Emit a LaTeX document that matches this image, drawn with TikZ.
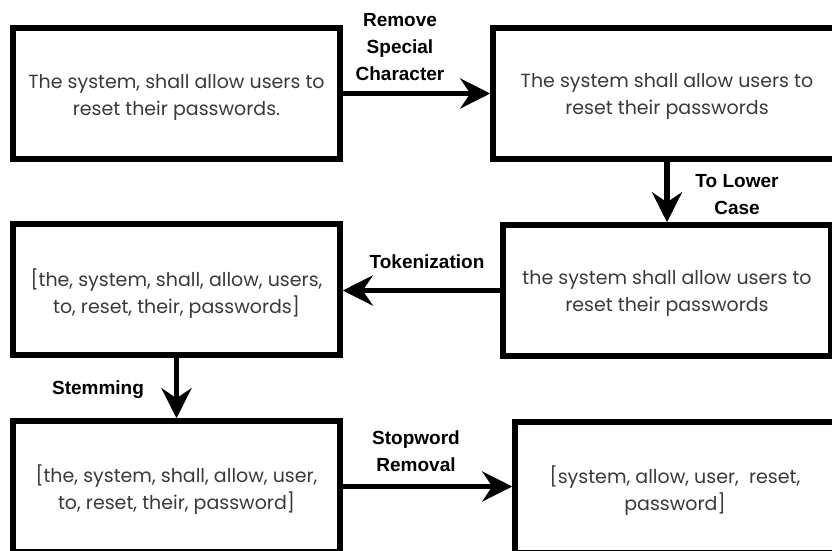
\documentclass[tikz,border=0pt]{standalone}
\usepackage{fontspec}
\setmainfont{Poppins}
\newfontfamily\labelfont{Liberation Sans}
\usetikzlibrary{arrows.meta}
\definecolor{bodytext}{HTML}{3A3A3A}
\tikzset{
  box/.style={draw=black, line width=5.5pt, fill=white, minimum height=131pt, inner sep=0pt},
  boxtext/.style={align=center, text=bodytext, font=\fontsize{19}{27}\selectfont, inner sep=0pt},
  flow/.style={line width=5.5pt, -{Stealth[length=30pt,width=30pt,inset=10pt]}},
  lbl/.style={font=\labelfont\bfseries\fontsize{19}{27}\selectfont, align=center, text=black, inner sep=0pt}
}
\begin{document}
\begin{tikzpicture}[x=1pt,y=-1pt]
\useasboundingbox (0,0) rectangle (832,550);
\clip (0,0) rectangle (832,550);
\node[box, minimum width=327pt] (b1) at (176.5,93.5) {};
\node[box, minimum width=348pt] (b2) at (667,93.5) {};
\node[box, minimum width=327pt] (b3) at (176.5,289.5) {};
\node[box, minimum width=328pt] (b4) at (667,290.5) {};
\node[box, minimum width=327pt] (b5) at (176.5,486.5) {};
\node[box, minimum width=320pt] (b6) at (675,487.5) {};

\node[boxtext] (t1) at ([yshift=-4pt]b1.center) {The system, shall allow users to\\reset their passwords.};
\node[boxtext] (t2) at ([yshift=-3pt]b2.center) {The system shall allow users to\\reset their passwords};
\node[boxtext] (t3) at ([yshift=-4pt]b3.center) {[the, system, shall, allow, users,\\to, reset, their, passwords]};
\node[boxtext] (t4) at ([yshift=-3pt]b4.center) {the system shall allow users to\\reset their passwords};
\node[boxtext] (t5) at ([yshift=-3pt]b5.center) {[the, system, shall, allow, user,\\to, reset, their, password]};
\node[boxtext] (t6) at ([yshift=-3pt]b6.center) {[system, allow, user,~ reset,\\password]};

\draw[flow] (b1) -- (b2);
\draw[flow] (b2) -- (b4);
\draw[flow] (b4.west) -- (b4.west -| b3.east);
\draw[flow] (b3) -- (b5);
\draw[flow] (b5.east) -- (b5.east -| b6.west);

\node[lbl] (l1) at (400,47) {Remove\\Special\\Character};
\node[lbl] (l2) at (737,195) {To Lower\\Case};
\node[lbl] (l3) at (427,262) {Tokenization};
\node[lbl] (l4) at (98,390) {Stemming};
\node[lbl] (l5) at (416,451) {Stopword\\Removal};
\end{tikzpicture}
\end{document}
